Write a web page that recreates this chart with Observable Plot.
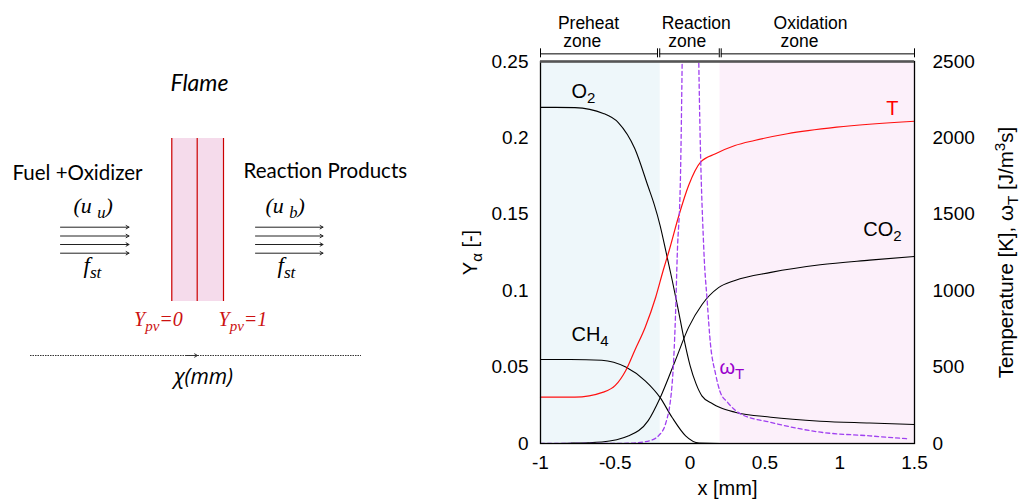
<!DOCTYPE html>
<html><head><meta charset="utf-8">
<script src="https://cdn.jsdelivr.net/npm/d3@7"></script>
<script src="https://cdn.jsdelivr.net/npm/@observablehq/plot@0.6"></script>
<style>
html,body{margin:0;padding:0;background:#fff;}
#wrap{position:relative;width:1021px;height:504px;overflow:hidden;background:#fff;}
#left{position:absolute;left:0;top:0;}
#right{position:absolute;left:430px;top:0;}
svg{overflow:visible;}
</style></head><body>
<div id="wrap"><div id="left"></div><div id="right"></div></div>
<script>
// ---------- Right chart data ----------
const xO2 = [-1,-0.9,-0.77,-0.58,-0.48,-0.37,-0.28,-0.24,-0.2,-0.16,-0.12,-0.08,-0.04,0,0.04,0.08,0.15,0.2,0.3,0.54,0.87,1.2,1.5];
const yO2 = [0.22,0.22,0.2198,0.216,0.21,0.193,0.168,0.1565,0.1425,0.125,0.107,0.088,0.068,0.051,0.039,0.031,0.026,0.0235,0.0205,0.0172,0.0146,0.0134,0.0124];

const xCH4 = [-1,-0.8,-0.59,-0.43,-0.3,-0.2,-0.12,-0.03,0.06,0.2,0.6,1.0,1.5];
const yCH4 = [0.055,0.055,0.0545,0.050,0.041,0.030,0.017,0.005,0.0003,0,0,0,0];

const xCO2 = [-1,-0.8,-0.59,-0.41,-0.28,-0.2,-0.1,-0.01,0.08,0.19,0.3,0.54,0.87,1.2,1.5];
const yCO2 = [0,0.0002,0.001,0.005,0.015,0.030,0.054,0.076,0.091,0.102,0.1067,0.112,0.117,0.120,0.1224];

const xT = [-1,-0.77,-0.58,-0.5,-0.43,-0.37,-0.3,-0.23,-0.18,-0.14,-0.075,-0.01,0.07,0.17,0.3,0.43,0.65,0.98,1.5];
const vT = [303,303,336,380,478,609,761,957,1132,1263,1492,1688,1841,1896,1950,1983,2027,2070,2109];

const xOmega = [-1,-0.6,-0.4,-0.32,-0.25,-0.21,-0.164,-0.12,-0.098,-0.086,-0.064,-0.053,0,0.058,0.092,0.114,0.136,0.17,0.2,0.25,0.337,0.537,0.872,1.2,1.45];
const vOmega = [0,0,2,9,25,52,129,391,827,1230,1765,2500,9000,2500,1263,936,652,456,340,270,194,139,74,50,31];

const xTicks = [-1,-0.5,0,0.5,1,1.5];
const yTicks = [0,0.05,0.1,0.15,0.2,0.25];
const tScale = 10000; // T [K] -> Y units (2500 K <-> 0.25)

const zones = [
  {name:"Preheat", x1:-1, x2:-0.2, fill:"#eef7fa"},
  {name:"Oxidation", x1:0.2, x2:1.5, fill:"#fcf0fa"}
];
const zoneTitles = [
  {text:"Preheat", x:-0.679}, {text:"Reaction", x:0.041}, {text:"Oxidation", x:0.805}
];
const zoneSubtitles = [
  {text:"zone", x:-0.721}, {text:"zone", x:-0.019}, {text:"zone", x:0.731}
];
const bracketSegments = [
  {x1:-1, x2:-0.218}, {x1:-0.203, x2:0.195}, {x1:0.208, x2:1.5}
];
const bracketTicks = [-1,-0.218,-0.203,0.195,0.208,1.5];

const curveLabels = [
  {text:"O_{2}", x:-0.793, y:0.226, color:"#000"},
  {text:"CH_{4}", x:-0.793, y:0.067, color:"#000"},
  {text:"CO_{2}", x:1.157, y:0.1361, color:"#000"},
  {text:"T", x:1.311, y:0.2151, color:"#ff0000"},
  {text:"ω_{T}", x:0.196, y:0.0458, color:"#9900cc"}
];

const rows = (xs, ys) => xs.map((x, i) => ({x, y: ys[i]}));

const rightPlot = Plot.plot({
  width: 591, height: 504,
  marginLeft: 110, marginRight: 107, marginTop: 61, marginBottom: 61,
  x: {domain: [-1, 1.5]},
  y: {domain: [0, 0.25]},
  color: {type: "identity"},
  style: {fontFamily: "'Liberation Sans', Arial, Helvetica, sans-serif", fontSize: "19px", color: "#000", background: "transparent", overflow: "visible"},
  marks: [
    Plot.rect(zones, {x1: "x1", x2: "x2", y1: () => 0, y2: () => 0.25, fill: "fill"}),
    Plot.line(rows(xO2, yO2), {x: "x", y: "y", stroke: "#000", strokeWidth: 1.1, curve: "monotone-x"}),
    Plot.line(rows(xCH4, yCH4), {x: "x", y: "y", stroke: "#000", strokeWidth: 1.1, curve: "monotone-x"}),
    Plot.line(rows(xCO2, yCO2), {x: "x", y: "y", stroke: "#000", strokeWidth: 1.1, curve: "monotone-x"}),
    Plot.line(rows(xT, vT), {x: "x", y: d => d.y / tScale, stroke: "#ff1010", strokeWidth: 1.2, curve: "monotone-x"}),
    Plot.line(rows(xOmega, vOmega), {x: "x", y: d => d.y / tScale, stroke: "#a040f0", strokeWidth: 1.3, strokeDasharray: "4,3", curve: "monotone-x", clip: true}),
    Plot.frame({stroke: "#000", strokeWidth: 1.3}),
    Plot.ruleY([0.25], {stroke: "#555", strokeWidth: 2.5}),
    Plot.axisX({ticks: xTicks, tickSize: 0, tickPadding: 12, tickFormat: d => String(d), label: null}),
    Plot.axisY({ticks: yTicks, tickSize: 0, tickPadding: 12, tickFormat: d => String(d), label: null}),
    Plot.axisY({anchor: "right", ticks: yTicks, tickSize: 0, tickPadding: 18, tickFormat: d => String(Math.round(d * tScale)), label: null}),
    Plot.text(["x [mm]"], {frameAnchor: "bottom", dy: 51, lineAnchor: "bottom", fontSize: 20}),
    Plot.text(["Y_{α} [-]"], {frameAnchor: "left", dx: -70, rotate: -90, textAnchor: "middle", lineAnchor: "middle", fontSize: 20}),
    Plot.text(["Temperature [K], ω_{T} [J/m^{3}s]"], {frameAnchor: "right", dx: 92, rotate: -90, textAnchor: "middle", lineAnchor: "middle", fontSize: 20.5}),
    Plot.text(curveLabels, {x: "x", y: "y", text: "text", fill: "color", textAnchor: "start", lineAnchor: "bottom", fontSize: 20}),
    Plot.text(zoneTitles, {x: "x", text: "text", frameAnchor: "top", dy: -32.7, textAnchor: "middle", lineAnchor: "bottom", fontSize: 17.5}),
    Plot.text(zoneSubtitles, {x: "x", text: "text", frameAnchor: "top", dy: -14.3, textAnchor: "middle", lineAnchor: "bottom", fontSize: 17.5}),
    Plot.ruleY(bracketSegments, {x1: "x1", x2: "x2", y: () => 0.2550, stroke: "#000", strokeWidth: 1}),
    Plot.ruleX(bracketTicks, {x: d => d, y1: () => 0.2583, y2: () => 0.2524, stroke: "#000", strokeWidth: 1})
  ]
});

// ---------- Left schematic data (pixel units of the left panel) ----------
const flameBand = [{x1: 171, x2: 223, y1: 138, y2: 301}];
const flameLines = [171.3, 196.7, 223];
const streamYs = [226.7, 235.5, 244, 252.7];
const streamSpans = [{x1: 60, x2: 128.5}, {x1: 255, x2: 322.5}];
const streamlines = streamSpans.flatMap(s => streamYs.map(y => ({x1: s.x1, x2: s.x2, y})));
const flowTitles = [{text: "Fuel +Oxidizer", x: 12, y: 179.5}, {text: "Reaction Products", x: 243, y: 177.5}];
const flameTitle = [{text: "Flame", x: 199, y: 90.5}];
const velocityLabels = [{text: "(u _{u})", x: 73, y: 212}, {text: "(u _{b})", x: 265, y: 212}];
const fluxLabels = [{text: "f_{st}", x: 83, y: 272}, {text: "f_{st}", x: 277, y: 272}];
const pvLabels = [{text: "Y_{pv}=0", x: 133.5, y: 325}, {text: "Y_{pv}=1", x: 218, y: 325}];
const coordAxis = [{x1: 30, x2: 361, y: 355}];
const coordArrow = [{x1: 186, x2: 197, y: 355}];
const coordLabel = [{text: "χ(mm)", x: 203, y: 383}];

const leftPlot = Plot.plot({
  width: 430, height: 504, margin: 0,
  x: {domain: [0, 430], range: [0, 430], axis: null},
  y: {domain: [0, 504], range: [0, 504], axis: null},
  style: {fontFamily: "Lato, 'Open Sans', sans-serif", fontSize: "20px", color: "#000", background: "transparent", overflow: "visible"},
  marks: [
    Plot.rect(flameBand, {x1: "x1", x2: "x2", y1: "y1", y2: "y2", fill: "#f5dbeb"}),
    Plot.ruleX(flameLines, {x: d => d, y1: () => 138, y2: () => 301, stroke: "#cc0000", strokeWidth: 1.2}),
    Plot.arrow(streamlines, {x1: "x1", x2: "x2", y1: "y", y2: "y", stroke: "#222", strokeWidth: 1, headLength: 5}),
    Plot.ruleY(coordAxis, {x1: "x1", x2: "x2", y: "y", stroke: "#333", strokeWidth: 1, strokeDasharray: "1.5,1"}),
    Plot.arrow(coordArrow, {x1: "x1", x2: "x2", y1: "y", y2: "y", stroke: "#333", strokeWidth: 1, headLength: 5}),
    Plot.text(flameTitle, {x: "x", y: "y", text: "text", fontStyle: "italic", fontSize: 23, lineAnchor: "bottom"}),
    Plot.text(flowTitles, {x: "x", y: "y", text: "text", textAnchor: "start", fontSize: 20.5, lineAnchor: "bottom"}),
    Plot.text(velocityLabels, {x: "x", y: "y", text: "text", textAnchor: "start", fontFamily: "'Liberation Serif', 'DejaVu Serif', serif", fontStyle: "italic", fontSize: 22, lineAnchor: "bottom"}),
    Plot.text(fluxLabels, {x: "x", y: "y", text: "text", textAnchor: "start", fontFamily: "'Liberation Serif', 'DejaVu Serif', serif", fontStyle: "italic", fontSize: 23, lineAnchor: "bottom"}),
    Plot.text(pvLabels, {x: "x", y: "y", text: "text", textAnchor: "start", fontFamily: "'Liberation Serif', 'DejaVu Serif', serif", fontStyle: "italic", fontSize: 20, fill: "#cc1111", lineAnchor: "bottom"}),
    Plot.text(coordLabel, {x: "x", y: "y", text: "text", fontFamily: "'Open Sans', sans-serif", fontStyle: "italic", fontSize: 21, lineAnchor: "bottom"})
  ]
});

document.getElementById("left").appendChild(leftPlot);
document.getElementById("right").appendChild(rightPlot);

// Turn _{..} and ^{..} into real subscript / superscript tspans
function richText(svg) {
  d3.select(svg).selectAll("text").each(function() {
    const t = this.textContent;
    if (!/[_^]\{/.test(t) || this.querySelector("tspan")) return;
    const parts = [];
    const re = /([_^])\{([^}]*)\}/g;
    let last = 0, m;
    while ((m = re.exec(t))) {
      if (m.index > last) parts.push({s: t.slice(last, m.index), k: ""});
      parts.push({s: m[2], k: m[1]});
      last = re.lastIndex;
    }
    if (last < t.length) parts.push({s: t.slice(last), k: ""});
    const base = parseFloat(getComputedStyle(this).fontSize) || 16;
    this.textContent = "";
    let cur = 0;
    for (const p of parts) {
      const target = p.k === "_" ? 0.25 * base : p.k === "^" ? -0.38 * base : 0;
      const ts = d3.select(this).append("tspan").text(p.s);
      if (p.k) ts.attr("font-size", (0.75 * base) + "px");
      if (target !== cur) ts.attr("dy", (target - cur) + "px");
      cur = target;
    }
  });
}
richText(leftPlot);
richText(rightPlot);
</script>
</body></html>
